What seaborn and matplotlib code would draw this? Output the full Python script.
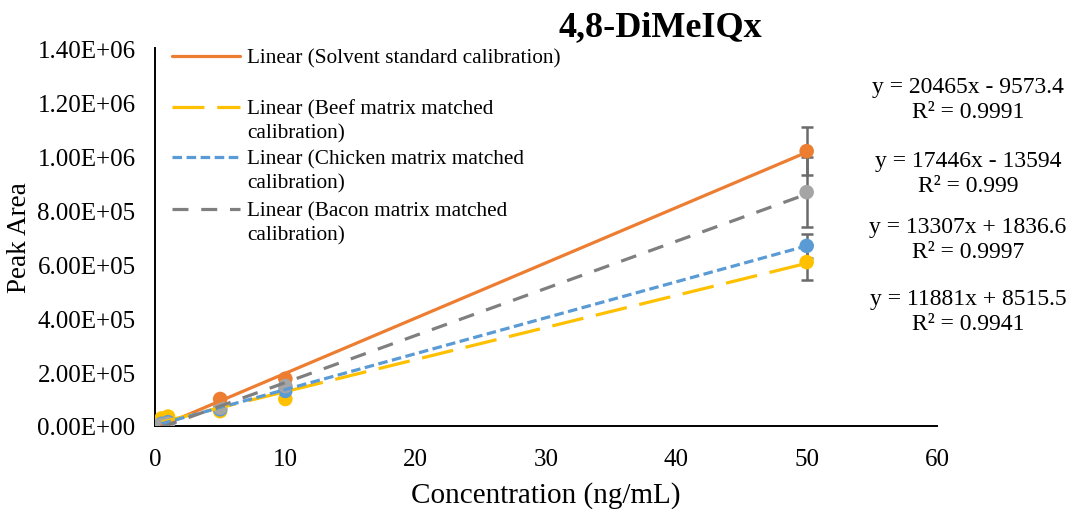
import numpy as np
import pandas as pd
import matplotlib
matplotlib.use("Agg")
import matplotlib.pyplot as plt
from matplotlib.lines import Line2D
from matplotlib.ticker import FuncFormatter, MultipleLocator
import seaborn as sns

# Calibration data for 4,8-DiMeIQx
concentration = [0.5, 1, 5, 10, 50]
solvent = [5000, 12000, 100000, 175000, 1018000]
beef = [28000, 35000, 55000, 100000, 607000]
chicken = [8000, 14000, 62000, 130000, 667000]
bacon = [4000, 9000, 68000, 148000, 866000]

# Standard deviations at the top calibration level
solvent_err = [0, 0, 0, 0, 90000]
beef_err = [0, 0, 0, 0, 65000]
chicken_err = [0, 0, 0, 0, 45000]
bacon_err = [0, 0, 0, 0, 130000]

series_names = ["Solvent standard calibration", "Beef matrix matched calibration",
                "Chicken matrix matched calibration", "Bacon matrix matched calibration"]
legend_labels = [["Linear (Solvent standard calibration)"],
                 ["Linear (Beef matrix matched", "calibration)"],
                 ["Linear (Chicken matrix matched", "calibration)"],
                 ["Linear (Bacon matrix matched", "calibration)"]]

# Linear trendline parameters
slopes = [20465, 11881, 13307, 17446]
intercepts = [-9573.4, 8515.5, 1836.6, -13594]
r_squared = ["0.9991", "0.9941", "0.9997", "0.999"]

marker_colors = ["#ED7D31", "#FFC000", "#5B9BD5", "#A5A5A5"]
line_colors = ["#ED7D31", "#FFC000", "#5B9BD5", "#7F7F7F"]
dash_styles = ["", (10, 4), (3, 1.4), (5, 4)]

values = [solvent, beef, chicken, bacon]
errors = [solvent_err, beef_err, chicken_err, bacon_err]

points = pd.DataFrame({
    "conc": np.tile(concentration, 4),
    "area": np.concatenate(values),
    "err": np.concatenate(errors),
    "series": np.repeat(series_names, len(concentration)),
})

x_fit = np.array([min(concentration), max(concentration)])
fit = pd.DataFrame({
    "conc": np.tile(x_fit, 4),
    "area": np.concatenate([m * x_fit + b for m, b in zip(slopes, intercepts)]),
    "series": np.repeat(series_names, len(x_fit)),
})

sns.set_theme(style="white")
plt.rcParams["font.family"] = ["Liberation Serif", "DejaVu Serif"]

W, H = 1087, 510
fig = plt.figure(figsize=(W / 100, H / 100), dpi=100)
ax = fig.add_axes([155 / W, 1 - 427 / H, (937 - 155) / W, (427 - 49) / H])

# Error bars
for name, col in zip(series_names, marker_colors):
    sub = points[(points.series == name) & (points.err > 0)]
    ax.errorbar(sub.conc, sub.area, yerr=sub.err, fmt="none", ecolor="#6B6B6B",
                elinewidth=1.8, capsize=4.5, capthick=1.8, zorder=2)

# Data points
sns.scatterplot(data=points, x="conc", y="area", hue="series", hue_order=series_names,
                palette=marker_colors, s=110, edgecolor="none", legend=False,
                ax=ax, zorder=3)

# Trendlines
sns.lineplot(data=fit, x="conc", y="area", hue="series", style="series",
             hue_order=series_names, style_order=series_names,
             palette=line_colors, dashes=dict(zip(series_names, dash_styles)),
             linewidth=2.3, legend=False, ax=ax, zorder=4)

ax.set_xlim(0, 60)
ax.set_ylim(0, 1.4e6)
ax.xaxis.set_major_locator(MultipleLocator(10))
ax.yaxis.set_major_locator(MultipleLocator(2e5))
ax.yaxis.set_major_formatter(FuncFormatter(lambda v, p: f"{v:.2E}"))
ax.tick_params(axis="both", length=0, labelsize=18, colors="black")
ax.tick_params(axis="x", pad=16)
ax.tick_params(axis="y", pad=14)
for side in ["top", "right"]:
    ax.spines[side].set_visible(False)
for side in ["left", "bottom"]:
    ax.spines[side].set_color("black")
    ax.spines[side].set_linewidth(1.4)

ax.set_xlabel("Concentration (ng/mL)", fontsize=21, color="black", labelpad=8)
ax.set_ylabel("Peak Area", fontsize=19.5, color="black", va="center")
ax.yaxis.set_label_coords((20 - 155) / (937 - 155), 0.5)

fig.text(660 / W, 1 - 28 / H, "4,8-DiMeIQx", fontsize=26, fontweight="bold",
         ha="center", va="center", color="black")

# Legend drawn entry by entry
legend_rows = [57, 108, 158, 210]
for lines, col, ds, yy in zip(legend_labels, line_colors, dash_styles, legend_rows):
    yf = 1 - yy / H
    ln = Line2D([172 / W, 240 / W], [yf, yf], transform=fig.transFigure,
                color=col, linewidth=2.3)
    if ds:
        ln.set_dashes(ds)
    fig.add_artist(ln)
    for k, txt in enumerate(lines):
        fig.text(247 / W, 1 - (yy + 2 + 24 * k) / H, txt, fontsize=15.3, ha="left",
                 va="center", color="black")

# Trendline equations
eq_rows = [(87, 0), (162, 3), (228, 2), (300, 1)]
for yy, i in eq_rows:
    b = intercepts[i]
    sign = "+" if b >= 0 else "-"
    eq = f"y = {slopes[i]}x {sign} {abs(b):g}"
    fig.text(968 / W, 1 - yy / H, eq, fontsize=17, ha="center", va="center", color="black")
    fig.text(968 / W, 1 - (yy + 25) / H, f"R² = {r_squared[i]}", fontsize=17,
             ha="center", va="center", color="black")

fig.savefig("out.png", dpi=100)
